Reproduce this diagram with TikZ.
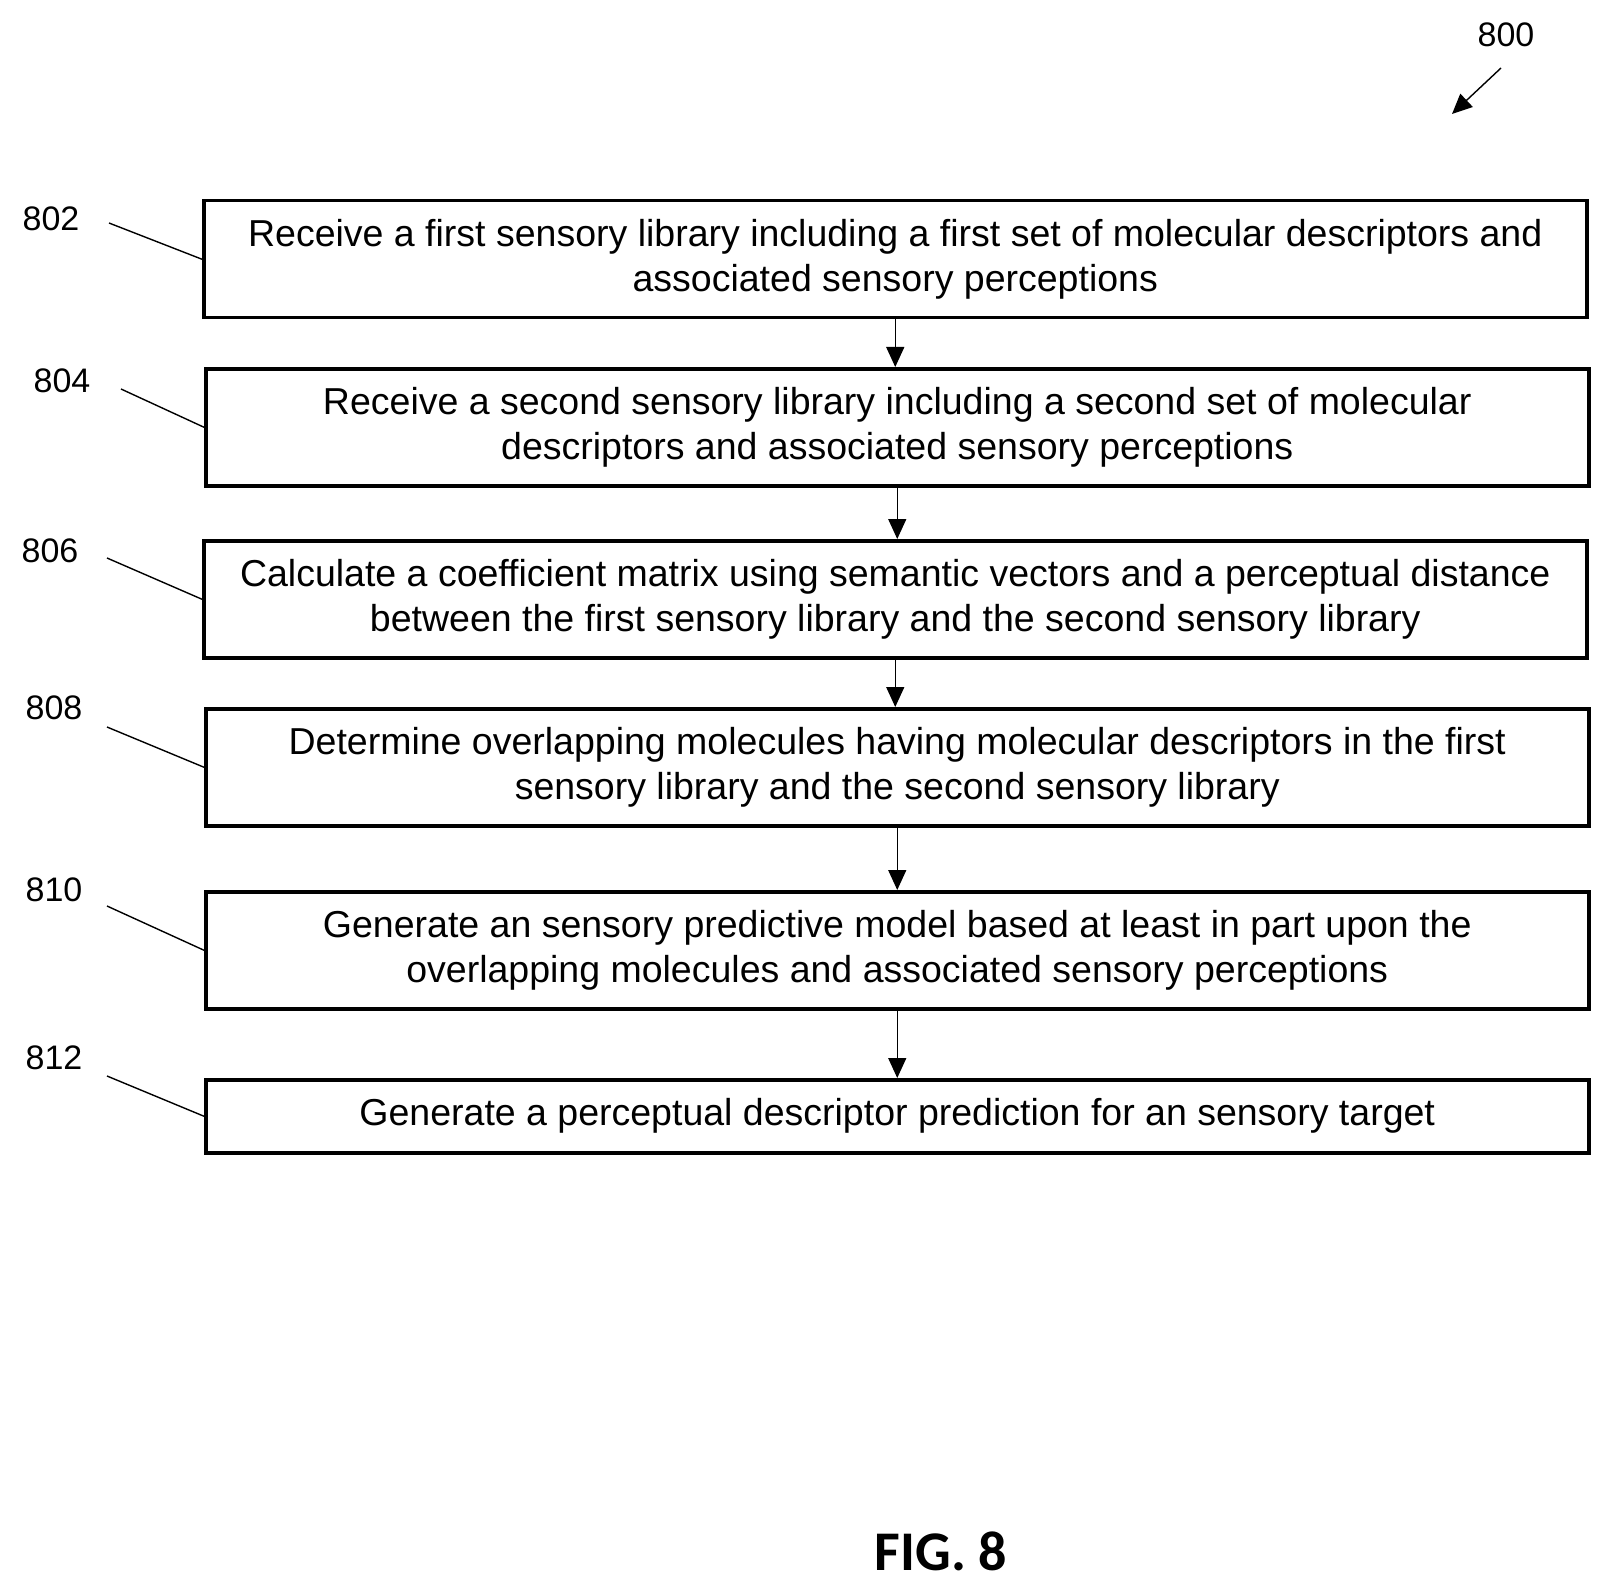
\documentclass[tikz,border=0pt]{standalone}
\usepackage{fontspec}
\setmainfont{Liberation Sans}
\newfontfamily\figfont{Carlito}
\usetikzlibrary{arrows.meta}
\begin{document}
\begin{tikzpicture}[x=1pt,y=-1pt,
 box/.style={draw,line width=3.5pt,minimum width=1383pt,align=center,font=\fontsize{37.5}{45}\selectfont,anchor=north west,inner sep=0pt},
 lab/.style={font=\fontsize{34}{36}\selectfont},
 lead/.style={line width=1.4pt},
 arr/.style={line width=1.4pt,-{Triangle[length=20pt,width=18pt]}}]
\useasboundingbox (0,0) rectangle (1611,1594);
\node[box,minimum height=117pt] (b1) at (202,199) {Receive a first sensory library including a first set of molecular descriptors and\\associated sensory perceptions};
\node[box,minimum height=117pt] (b2) at (204,367) {Receive a second sensory library including a second set of molecular\\descriptors and associated sensory perceptions};
\node[box,minimum height=117pt] (b3) at (202,539) {Calculate a coefficient matrix using semantic vectors and a perceptual distance\\between the first sensory library and the second sensory library};
\node[box,minimum height=117pt] (b4) at (204,707) {Determine overlapping molecules having molecular descriptors in the first\\sensory library and the second sensory library};
\node[box,minimum height=117pt] (b5) at (204,890) {Generate an sensory predictive model based at least in part upon the\\overlapping molecules and associated sensory perceptions};
\node[box,minimum height=73pt] (b6) at (204,1078) {Generate a perceptual descriptor prediction for an sensory target};
\foreach \a/\b in {b1/b2,b2/b3,b3/b4,b4/b5,b5/b6} \draw[arr] (\a.south) -- (\a.south |- \b.north);
\node[lab] (l1) at (51,219) {802};
\node[lab] (l2) at (62,381) {804};
\node[lab] (l3) at (50,551) {806};
\node[lab] (l4) at (54,708) {808};
\node[lab] (l5) at (54,890) {810};
\node[lab] (l6) at (54,1058) {812};
\coordinate (c1) at (109,223); \draw[lead] (c1) -- (b1.west);
\coordinate (c2) at (121,389); \draw[lead] (c2) -- (b2.west);
\coordinate (c3) at (107,558); \draw[lead] (c3) -- (b3.west);
\coordinate (c4) at (107,727); \draw[lead] (c4) -- (b4.west);
\coordinate (c5) at (107,906); \draw[lead] (c5) -- (b5.west);
\coordinate (c6) at (107,1076); \draw[lead] (c6) -- (b6.west);
\node[lab] (n800) at (1506,35) {800};
\coordinate (s800) at (1501,68); \coordinate (e800) at (1452,114);
\draw[arr] (s800) -- (e800);
\node[font=\figfont\bfseries\fontsize{56}{60}\selectfont] (fig) at (941,1551) {FIG. 8};
\end{tikzpicture}
\end{document}
